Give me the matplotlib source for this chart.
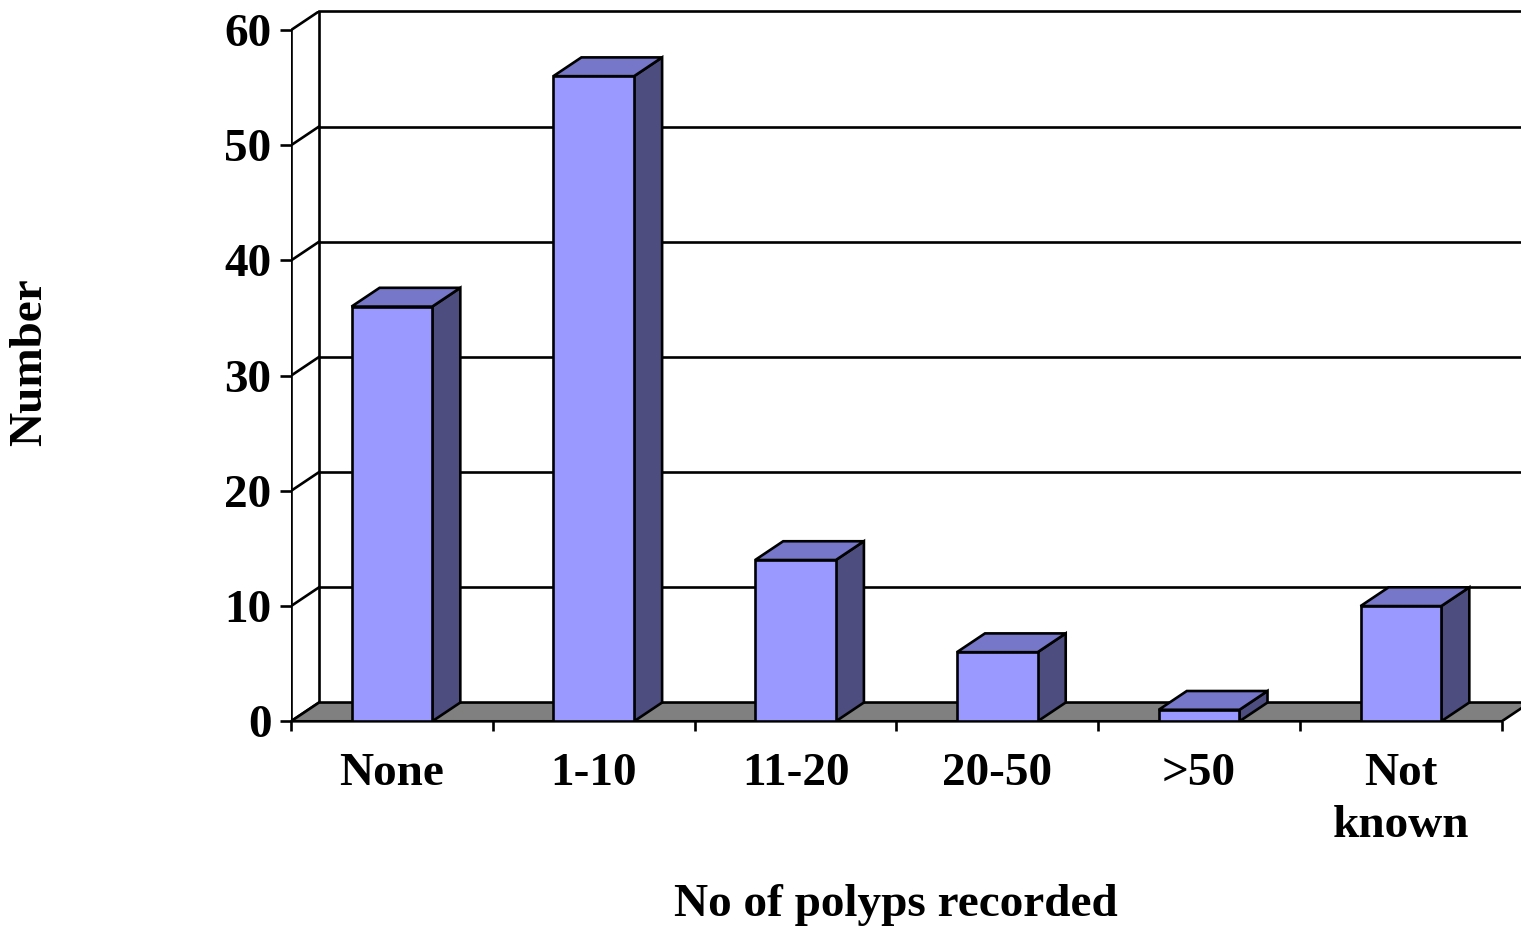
import numpy as np
import matplotlib
matplotlib.use('Agg')
import matplotlib.pyplot as plt

plt.rcParams['font.family'] = ['Liberation Serif', 'DejaVu Serif']
plt.rcParams['font.weight'] = 'bold'

categories = ['None', '1-10', '11-20', '20-50', '>50', 'Not\nknown']
counts = [36, 56, 14, 6, 1, 10]
yticks = [0, 10, 20, 30, 40, 50, 60]

FRONT = '#9999FF'
TOP = '#7777C9'
SIDE = '#4D4D80'
FLOOR = '#808080'

# depth of the fake 3d box, in data units
dx = 0.139
dy = 1.63
bw = 0.40
ymax = 60
lw = 1.9

fig = plt.figure(figsize=(15.21, 9.26), dpi=100)
ax = fig.add_axes([291 / 1521, 204.7 / 926, (6 + dx) * 201.8 / 1521, (ymax + dy) * 11.52 / 926])
ax.set_xlim(0, 6 + dx)
ax.set_ylim(0, ymax + dy)
for s in ax.spines.values():
    s.set_visible(False)

# back wall gridlines and side wall diagonals
for v in yticks:
    ax.plot([dx, 6 + dx + 1], [v + dy, v + dy], color='black', lw=lw, clip_on=False, zorder=1)
    ax.plot([0, dx], [v, v + dy], color='black', lw=lw, zorder=1)
ax.plot([dx, dx], [dy, ymax + dy], color='black', lw=lw, zorder=1)
ax.plot([0, 0], [0, ymax], color='black', lw=lw, zorder=1)

# floor
ax.fill([0, 6, 6 + dx, dx], [0, 0, dy, dy], facecolor=FLOOR, edgecolor='black',
        lw=lw, zorder=2, clip_on=False)
ax.plot([0, 6], [0, 0], color='black', lw=lw, zorder=2)

# columns: front face, then side and top
x = np.arange(len(counts)) + 0.5
ax.bar(x, counts, width=bw, color=FRONT, edgecolor='black', linewidth=lw, zorder=4)
for xi, v in zip(x, counts):
    l, r = xi - bw / 2, xi + bw / 2
    ax.fill([r, r + dx, r + dx, r], [0, dy, v + dy, v], facecolor=SIDE,
            edgecolor='black', lw=lw, zorder=3)
    ax.fill([l, r, r + dx, l + dx], [v, v, v + dy, v + dy], facecolor=TOP,
            edgecolor='black', lw=lw, zorder=3)

ax.set_yticks(yticks)
ax.set_yticklabels([str(t) for t in yticks], fontsize=34, fontweight='bold')
ax.tick_params(axis='y', length=8, width=lw, pad=6)

ax.set_xticks(np.arange(7))
ax.set_xticklabels([])
ax.tick_params(axis='x', which='major', length=7.5, width=lw)
ax.set_xticks(x, minor=True)
ax.set_xticklabels(categories, minor=True, fontsize=34, fontweight='bold', linespacing=1.32)
ax.tick_params(axis='x', which='minor', length=0, pad=23)

fig.text(30 / 1521, 1 - 362 / 926, 'Number', rotation=90, ha='center', va='center',
         fontsize=34, fontweight='bold')
fig.text(896 / 1521, 1 - 916 / 926, 'No of polyps recorded', ha='center', va='baseline',
         fontsize=34, fontweight='bold')

fig.savefig('out.png', dpi=100)
